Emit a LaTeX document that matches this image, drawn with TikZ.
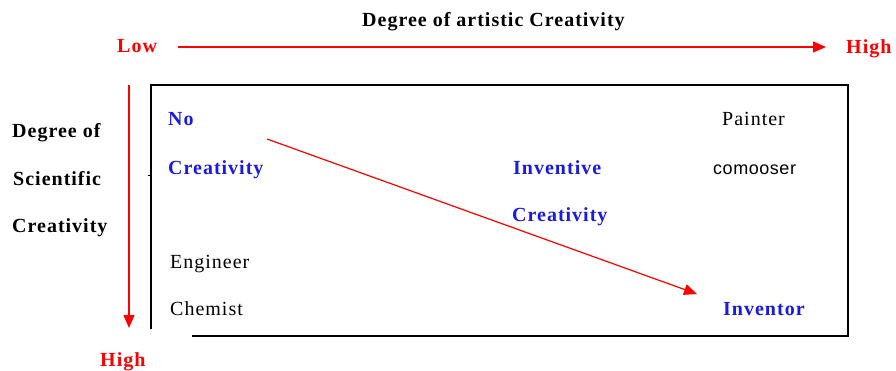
\documentclass[tikz,border=0pt]{standalone}
\usepackage{fontspec}
\setmainfont{Liberation Serif}[LetterSpace=5]
\newfontfamily\cmpfont{Liberation Sans}[LetterSpace=3]
\usetikzlibrary{arrows.meta}
\definecolor{axred}{HTML}{FF0000}
\definecolor{lblblue}{HTML}{1A1AE6}

\begin{document}
\begin{tikzpicture}[x=1pt, y=-1pt, font=\fontsize{20}{22}\selectfont,
    lbl/.style={anchor=base west, inner sep=0pt},
    hd/.style={lbl, font=\fontsize{20}{22}\selectfont\bfseries},
    rd/.style={hd, text=axred},
    bl/.style={hd, text=lblblue},
    axarrow/.style={axred, line width=1.4pt, -{Triangle[length=13pt, width=11pt]}},
    frame/.style={line width=2.8pt, line cap=rect}]
  \useasboundingbox (0,0) rectangle (896,371);
  % axes
  \node[hd] (title) at (362,27) {Degree of artistic Creativity};
  \node[rd] (low) at (117,53) {Low};
  \node[rd] (highx) at (846,54) {High};
  \node[rd] (highy) at (100,366) {High};
  \coordinate (hs) at (178,47);
  \coordinate (he) at (826,47);
  \coordinate (vs) at (129,85);
  \coordinate (ve) at (129,328);
  \draw[axarrow] (hs) -- (he);
  \draw[axarrow] (vs) -- (ve);
  \node[hd] (deg) at (12,138) {Degree of};
  \node[hd] (sci) at (13,186) {Scientific};
  \node[hd] (cre) at (12,233) {Creativity};
  % frame
  \coordinate (bl) at (151,328);
  \coordinate (tl) at (151,85);
  \coordinate (tr) at (848,85);
  \coordinate (br) at (848,336);
  \coordinate (bs) at (193,336);
  \coordinate (tk) at (148,176);
  \draw[frame] (bl) -- (tl) -- (tr) -- (br) -- (bs);
  \draw[line width=1pt] (tk) -- (151,176);
  % inside
  \node[bl] (no) at (168,126) {No};
  \node[bl] (noc) at (168,175) {Creativity};
  \node[lbl] (eng) at (170,268) {Engineer};
  \node[lbl] (chem) at (170,315) {Chemist};
  \node[bl] (inv) at (513,175) {Inventive};
  \node[bl] (invc) at (512,222) {Creativity};
  \node[lbl] (paint) at (722,126) {Painter};
  \node[lbl, font=\fontsize{18}{20}\cmpfont] (comp) at (713,175) {comooser};
  \node[bl] (inventor) at (723,315) {Inventor};
  \coordinate (ds) at (267,139);
  \coordinate (de) at (697,294);
  \draw[axarrow, line width=1.2pt] (ds) -- (de);
\end{tikzpicture}
\end{document}
